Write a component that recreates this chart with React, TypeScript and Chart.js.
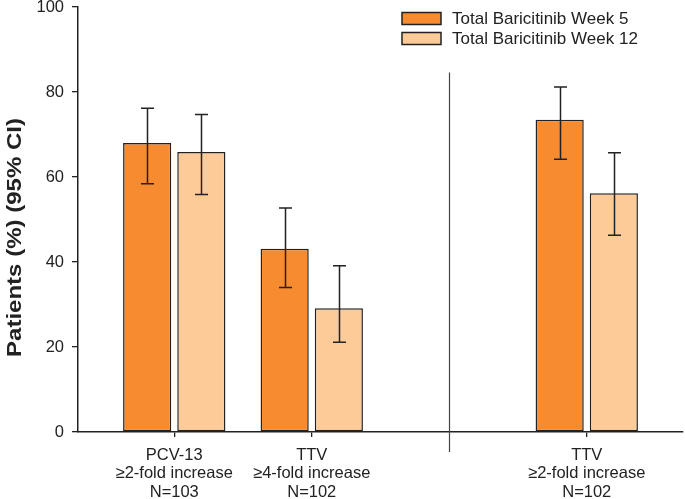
import React, { useEffect, useRef } from "react";
import { Chart, registerables } from "chart.js";

Chart.register(...registerables);

const categoryPositions = [1, 2, 4];
const categoryLabels = [
  ["PCV-13", "≥2-fold increase", "N=103"],
  ["TTV", "≥4-fold increase", "N=102"],
  ["TTV", "≥2-fold increase", "N=102"],
];
const seriesNames = ["Total Baricitinib Week 5", "Total Baricitinib Week 12"];
const week5Values = [68.0, 43.1, 73.5];
const week5Low = [58.4, 34.0, 64.2];
const week5High = [76.2, 52.7, 81.2];
const week12Values = [65.9, 29.1, 56.2];
const week12Low = [55.9, 21.1, 46.3];
const week12High = [74.7, 39.1, 65.7];
const yTicks = [0, 20, 40, 60, 80, 100];
const breakPosition = 3;
const breakTopValue = 84.6;

const ORANGE = "#F68B30";
const LIGHT = "#FDCB98";
const DARK = "#222222";
const FONT = "Arial, 'Liberation Sans', sans-serif";

export default function App() {
  const ref = useRef<HTMLCanvasElement | null>(null);

  useEffect(() => {
    const canvas = ref.current;
    if (!canvas) return;
    const lows = [week5Low, week12Low];
    const highs = [week5High, week12High];

    const errorBars = {
      id: "errorBars",
      afterDatasetsDraw(chart: any) {
        const ctx = chart.ctx;
        const y = chart.scales.y;
        ctx.save();
        ctx.strokeStyle = DARK;
        ctx.lineWidth = 1.5;
        chart.data.datasets.forEach((_: any, di: number) => {
          const meta = chart.getDatasetMeta(di);
          meta.data.forEach((el: any, i: number) => {
            const x = Math.round(el.x) + 0.5;
            const yl = y.getPixelForValue(lows[di][i]);
            const yh = y.getPixelForValue(highs[di][i]);
            ctx.beginPath();
            ctx.moveTo(x, yl);
            ctx.lineTo(x, yh);
            ctx.moveTo(x - 6.5, yl);
            ctx.lineTo(x + 6.5, yl);
            ctx.moveTo(x - 6.5, yh);
            ctx.lineTo(x + 6.5, yh);
            ctx.stroke();
          });
        });
        ctx.restore();
      },
    };

    const extras = {
      id: "extras",
      afterDraw(chart: any) {
        const ctx = chart.ctx;
        const xs = chart.scales.x;
        const ys = chart.scales.y;
        ctx.save();
        // axis break line
        const bx = Math.round(xs.getPixelForValue(breakPosition)) + 0.5;
        ctx.strokeStyle = "#444";
        ctx.lineWidth = 1.2;
        ctx.beginPath();
        ctx.moveTo(bx, ys.getPixelForValue(breakTopValue));
        ctx.lineTo(bx, chart.chartArea.bottom + 20);
        ctx.stroke();

        // legend
        const colors = [ORANGE, LIGHT];
        ctx.font = `17px ${FONT}`;
        ctx.textBaseline = "middle";
        ctx.textAlign = "left";
        seriesNames.forEach((name, i) => {
          const top = 12.5 + i * 20;
          ctx.fillStyle = colors[i];
          ctx.fillRect(402, top, 39, 12);
          ctx.strokeStyle = DARK;
          ctx.lineWidth = 1.5;
          ctx.strokeRect(402, top, 39, 12);
          ctx.fillStyle = DARK;
          ctx.fillText(name, 452, top + 6.5);
        });

        // y title
        ctx.translate(15, 237.5);
        ctx.rotate(-Math.PI / 2);
        ctx.font = `bold 20px ${FONT}`;
        ctx.textAlign = "center";
        ctx.textBaseline = "middle";
        const t = "Patients (%) (95% CI)";
        const w = ctx.measureText(t).width;
        ctx.scale(239 / w, 1);
        ctx.fillStyle = DARK;
        ctx.fillText(t, 0, 0);
        ctx.restore();
      },
    };

    const chart = new Chart(canvas, {
      type: "bar",
      data: {
        datasets: [
          {
            label: seriesNames[0],
            data: categoryPositions.map((x, i) => ({ x, y: week5Values[i] })),
            backgroundColor: ORANGE,
            borderColor: DARK,
            borderWidth: 1.5,
            borderSkipped: false,
          },
          {
            label: seriesNames[1],
            data: categoryPositions.map((x, i) => ({ x, y: week12Values[i] })),
            backgroundColor: LIGHT,
            borderColor: DARK,
            borderWidth: 1.5,
            borderSkipped: false,
          },
        ],
      },
      options: {
        animation: false,
        responsive: false,
        devicePixelRatio: 1,
        categoryPercentage: 0.788,
        barPercentage: 0.889,
        layout: { padding: { top: 7, right: 2, left: 0, bottom: 0 } },
        plugins: {
          legend: { display: false },
          tooltip: { enabled: false },
        },
        scales: {
          x: {
            type: "linear",
            offset: false,
            min: 0.3,
            max: 4.7,
            afterBuildTicks(scale: any) {
              scale.ticks = categoryPositions.map((v) => ({ value: v }));
            },
            afterFit(scale: any) {
              scale.height = 67;
              scale.paddingLeft = 0;
              scale.paddingRight = 0;
            },
            grid: {
              display: true,
              offset: false,
              drawOnChartArea: false,
              drawTicks: true,
              tickLength: 5,
              color: DARK,
              lineWidth: 1.3,
            },
            border: { display: true, color: DARK, width: 1.5 },
            ticks: {
              autoSkip: false,
              maxRotation: 0,
              padding: 9,
              color: DARK,
              font: { family: FONT, size: 16.5, lineHeight: 1.12 },
              callback: (value: any) => {
                const i = categoryPositions.indexOf(Number(value));
                return i >= 0 ? categoryLabels[i] : "";
              },
            },
          },
          y: {
            min: 0,
            max: 100,
            afterBuildTicks(scale: any) {
              scale.ticks = yTicks.map((v) => ({ value: v }));
            },
            afterFit(scale: any) {
              scale.width = 78;
              scale.paddingTop = 0;
              scale.paddingBottom = 0;
            },
            grid: {
              display: true,
              drawOnChartArea: false,
              drawTicks: true,
              tickLength: 6,
              color: DARK,
              lineWidth: 1.3,
            },
            border: { display: true, color: DARK, width: 1.5 },
            ticks: {
              padding: 8,
              color: DARK,
              font: { family: FONT, size: 16.5 },
            },
          },
        },
      },
      plugins: [errorBars, extras],
    } as any);

    return () => chart.destroy();
  }, []);

  return (
    <div style={{ position: "fixed", left: 0, top: 0, width: 685, height: 499, background: "#fff" }}>
      <canvas ref={ref} width={685} height={499} style={{ display: "block" }} />
    </div>
  );
}
